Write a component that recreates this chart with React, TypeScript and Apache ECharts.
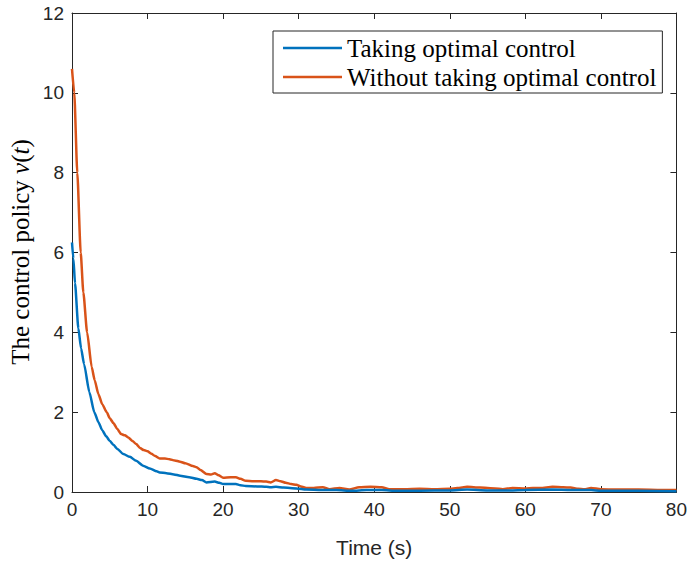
import React, { useEffect, useRef } from "react";
import * as echarts from "echarts";

const xTicks = [0, 10, 20, 30, 40, 50, 60, 70, 80];
const yTicks = [0, 2, 4, 6, 8, 10, 12];

const seriesNames = ["Taking optimal control", "Without taking optimal control"];

const timeOpt = [0, 0.18, 0.4, 0.84, 1.2, 1.6, 2.3, 2.95, 3.5, 4.0, 4.5, 5.0, 5.5, 6.0, 6.8, 7.66, 8.5, 9.4, 10.3, 11.2, 11.6, 12.5, 13.5, 14.3, 15.5, 16.5, 17.2, 17.8, 18.9, 19.5, 20.0, 21.7, 22.3, 23.0, 24.5, 25.7, 26.3, 27.0, 28.0, 29.7, 31.0, 33.0, 35.0, 37.0, 39.0, 41.0, 43.0, 46.0, 50.0, 52.3, 55.0, 58.0, 60.0, 63.6, 66.0, 68.7, 70.0, 75.0, 80.0];
const valueOpt = [6.25, 5.85, 5.23, 4.1, 3.6, 3.2, 2.5, 2.0, 1.75, 1.55, 1.4, 1.28, 1.18, 1.08, 0.95, 0.88, 0.78, 0.66, 0.59, 0.52, 0.49, 0.47, 0.44, 0.41, 0.37, 0.33, 0.3, 0.24, 0.26, 0.23, 0.2, 0.2, 0.17, 0.15, 0.14, 0.13, 0.12, 0.13, 0.11, 0.09, 0.06, 0.05, 0.05, 0.03, 0.05, 0.05, 0.03, 0.03, 0.04, 0.06, 0.04, 0.04, 0.05, 0.06, 0.05, 0.05, 0.03, 0.03, 0.02];

const timeNo = [0, 0.3, 0.7, 1.15, 1.5, 2.0, 2.6, 3.0, 3.5, 4.0, 4.6, 5.0, 5.5, 6.0, 6.5, 7.0, 7.5, 8.0, 8.5, 9.0, 9.5, 10.0, 10.5, 11.0, 11.6, 12.3, 12.9, 13.6, 14.3, 15.0, 16.0, 16.5, 17.0, 17.8, 18.4, 18.9, 19.4, 20.0, 21.0, 21.7, 22.3, 23.0, 24.0, 25.0, 25.7, 26.3, 27.0, 27.6, 28.3, 29.0, 29.7, 30.3, 31.0, 32.0, 33.2, 34.1, 35.4, 36.7, 38.0, 39.5, 41.0, 42.0, 44.0, 46.0, 48.0, 50.0, 51.0, 52.3, 54.0, 56.0, 57.0, 58.3, 60.0, 61.0, 62.0, 63.6, 65.0, 66.0, 67.0, 67.8, 68.7, 70.0, 72.0, 75.0, 78.0, 80.0];
const valueNo = [10.6, 10.0, 8.0, 6.0, 5.0, 4.0, 3.14, 2.8, 2.45, 2.2, 2.0, 1.85, 1.72, 1.58, 1.45, 1.42, 1.36, 1.28, 1.2, 1.1, 1.05, 1.02, 0.96, 0.9, 0.84, 0.84, 0.82, 0.79, 0.76, 0.72, 0.65, 0.62, 0.55, 0.45, 0.44, 0.47, 0.42, 0.36, 0.37, 0.37, 0.33, 0.28, 0.27, 0.27, 0.26, 0.24, 0.3, 0.27, 0.23, 0.2, 0.18, 0.14, 0.1, 0.1, 0.12, 0.07, 0.1, 0.06, 0.12, 0.13, 0.12, 0.07, 0.07, 0.08, 0.07, 0.08, 0.1, 0.13, 0.11, 0.09, 0.07, 0.1, 0.09, 0.1, 0.1, 0.13, 0.12, 0.11, 0.08, 0.07, 0.1, 0.07, 0.06, 0.06, 0.05, 0.05];

const AX = "#262626";
const SANS = "'Liberation Sans', Arial, sans-serif";
const SERIF = "'Liberation Serif', 'Times New Roman', serif";

export default function App() {
  const ref = useRef<HTMLDivElement>(null);
  useEffect(() => {
    if (!ref.current) return;
    const chart = echarts.init(ref.current, undefined, { renderer: "svg" });
    const axisCommon = {
      axisLine: { show: true, onZero: false, lineStyle: { color: AX, width: 1 } },
      axisTick: { show: true, inside: true, length: 6, lineStyle: { color: AX, width: 1 } },
      splitLine: { show: false },
    };
    const xMin = xTicks[0], xMax = xTicks[xTicks.length - 1];
    const yMin = yTicks[0], yMax = yTicks[yTicks.length - 1];
    chart.setOption({
      animation: false,
      backgroundColor: "#ffffff",
      grid: { left: 72, right: 12, top: 13, bottom: 72, containLabel: false },
      legend: {
        orient: "vertical",
        left: 273,
        top: 31,
        padding: [3, 6, 2, 10],
        itemGap: 1,
        itemWidth: 59,
        itemHeight: 2.5,
        icon: "rect",
        backgroundColor: "#ffffff",
        borderColor: AX,
        borderWidth: 1,
        borderRadius: 0,
        textStyle: { fontFamily: SERIF, fontSize: 25, color: "#000", lineHeight: 28 },
        data: seriesNames,
      },
      xAxis: [
        {
          type: "value", min: xMin, max: xMax, interval: 10, position: "bottom",
          ...axisCommon,
          axisLabel: { show: true, color: AX, fontFamily: SANS, fontSize: 19, margin: 8 },
          name: "Time (s)", nameLocation: "middle", nameGap: 45,
          nameTextStyle: { color: AX, fontFamily: SANS, fontSize: 21 },
        },
        {
          type: "value", min: xMin, max: xMax, interval: 10, position: "top",
          ...axisCommon, axisLabel: { show: false },
        },
      ],
      yAxis: [
        {
          type: "value", min: yMin, max: yMax, interval: 2, position: "left",
          ...axisCommon,
          axisLabel: { show: true, color: AX, fontFamily: SANS, fontSize: 19, margin: 8 },
        },
        {
          type: "value", min: yMin, max: yMax, interval: 2, position: "right",
          ...axisCommon, axisLabel: { show: false },
        },
      ],
      graphic: [
        {
          type: "text",
          x: 20,
          y: 252,
          rotation: Math.PI / 2,
          style: {
            text: "{n|The control policy }{i|v}{n|(}{i|t}{n|)}",
            align: "center",
            verticalAlign: "middle",
            fill: "#000",
            rich: {
              n: { fontFamily: SERIF, fontSize: 25, fill: "#000" },
              i: { fontFamily: SERIF, fontSize: 25, fontStyle: "italic", fill: "#000" },
            },
          },
        },
      ],
      series: [
        {
          name: seriesNames[0],
          type: "line",
          xAxisIndex: 0, yAxisIndex: 0,
          data: timeOpt.map((t, i) => [t, valueOpt[i]]),
          showSymbol: false, symbol: "none",
          smooth: 0.2, smoothMonotone: "x",
          lineStyle: { color: "#0072BD", width: 2.5 },
          itemStyle: { color: "#0072BD" },
          z: 3,
        },
        {
          name: seriesNames[1],
          type: "line",
          xAxisIndex: 0, yAxisIndex: 0,
          data: timeNo.map((t, i) => [t, valueNo[i]]),
          showSymbol: false, symbol: "none",
          smooth: 0.2, smoothMonotone: "x",
          lineStyle: { color: "#D95319", width: 2.5 },
          itemStyle: { color: "#D95319" },
          z: 2,
        },
      ],
    });
    return () => chart.dispose();
  }, []);
  return <div ref={ref} style={{ width: 690, height: 564, position: "absolute", left: 0, top: 0 }} />;
}
